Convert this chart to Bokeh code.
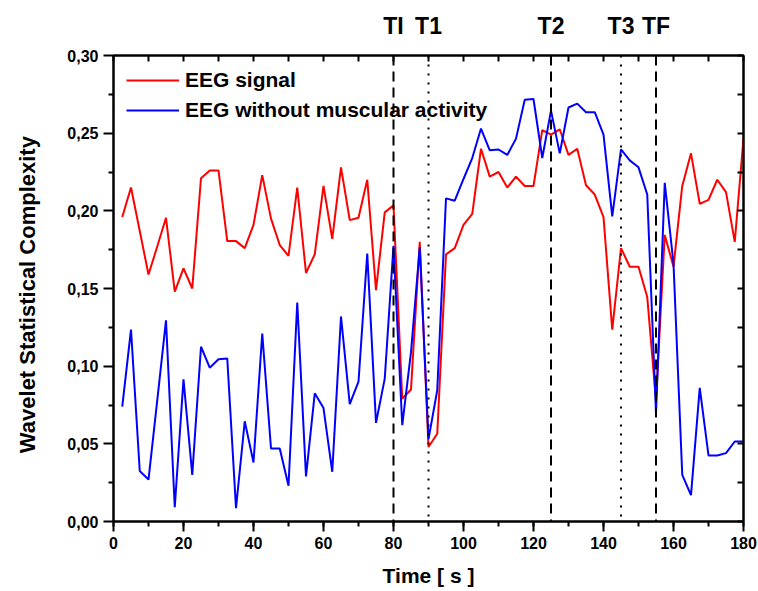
from bokeh.plotting import figure
from bokeh.layouts import column
from bokeh.models import (Range1d, LinearAxis, SingleIntervalTicker, FixedTicker,
                          CustomJSTickFormatter, Span, Legend, LegendItem)
from bokeh.core.properties import value
from bokeh.embed import file_html
from bokeh.resources import INLINE

# ---------------- data ----------------
time_s = [2.5, 5, 7.5, 10, 12.5, 15, 17.5, 20, 22.5, 25, 27.5, 30, 32.5, 35, 37.5, 40,
          42.5, 45, 47.5, 50, 52.5, 55, 57.5, 60, 62.5, 65, 67.5, 70, 72.5, 75, 77.5, 80,
          82.5, 85, 87.5, 90, 92.5, 95, 97.5, 100, 102.5, 105, 107.5, 110, 112.5, 115,
          117.5, 120, 122.5, 125, 127.5, 130, 132.5, 135, 137.5, 140, 142.5, 145, 147.5,
          150, 152.5, 155, 157.5, 160, 162.5, 165, 167.5, 170, 172.5, 175, 177.5, 180]

eeg_signal = [0.196, 0.215, 0.187, 0.159, 0.177, 0.1955, 0.148, 0.163, 0.150, 0.221,
              0.226, 0.226, 0.1805, 0.1805, 0.176, 0.191, 0.223, 0.195, 0.178, 0.171,
              0.215, 0.160, 0.172, 0.216, 0.182, 0.228, 0.194, 0.1955, 0.220, 0.149,
              0.199, 0.2035, 0.079, 0.085, 0.180, 0.048, 0.0565, 0.172, 0.176, 0.191,
              0.198, 0.240, 0.222, 0.225, 0.215, 0.222, 0.216, 0.216, 0.252, 0.249,
              0.2525, 0.236, 0.240, 0.2165, 0.2105, 0.196, 0.1235, 0.176, 0.164, 0.164,
              0.1445, 0.078, 0.1845, 0.164, 0.216, 0.237, 0.2045, 0.207, 0.220, 0.212,
              0.180, 0.2465]

eeg_no_muscle = [0.074, 0.1235, 0.0325, 0.027, 0.078, 0.1295, 0.0092, 0.0915, 0.030, 0.1125,
                 0.099, 0.1045, 0.105, 0.0086, 0.0645, 0.038, 0.121, 0.047, 0.047, 0.023,
                 0.141, 0.029, 0.0825, 0.073, 0.032, 0.132, 0.0755, 0.090, 0.1725, 0.0635,
                 0.092, 0.1775, 0.062, 0.109, 0.1765, 0.053, 0.0845, 0.208, 0.2065, 0.2205,
                 0.234, 0.253, 0.239, 0.2395, 0.236, 0.2465, 0.2715, 0.272, 0.234, 0.2645,
                 0.237, 0.2665, 0.269, 0.2635, 0.2635, 0.249, 0.1965, 0.2395, 0.2325, 0.228,
                 0.2105, 0.0695, 0.218, 0.166, 0.030, 0.017, 0.086, 0.0425, 0.0425, 0.044,
                 0.0515, 0.0515]

marker_times = [80, 90, 125, 145, 155]
marker_names = ["TI", "T1", "T2", "T3", "TF"]
marker_dashes = ["10 6", "2 7", "10 6", "2 7", "10 6"]

y_major = [0.0, 0.05, 0.10, 0.15, 0.20, 0.25, 0.30]
y_minor = [0.025, 0.075, 0.125, 0.175, 0.225, 0.275]

series_names = ["EEG signal", "EEG without muscular activity"]
series_colors = ["#ff0000", "#0000ff"]

FONT = "Liberation Sans"

x_rng = Range1d(0, 180)

# ---------------- strip above the plot with event names ----------------
top_fig = figure(frame_width=630, height=43, x_range=x_rng, y_range=Range1d(0, 1),
                 output_backend="svg", toolbar_location=None,
                 x_axis_location=None, y_axis_location=None,
                 min_border_left=113, min_border_right=15, min_border_top=0,
                 min_border_bottom=0, outline_line_color=None)
top_fig.grid.visible = False
top_fig.text(x=marker_times, y=[0.4] * len(marker_times), text=marker_names,
             text_align="center", text_baseline="middle", text_font=value(FONT),
             text_font_style="bold", text_font_size="23px", text_color="black")

# ---------------- main figure ----------------
p = figure(frame_width=630, frame_height=466,
           x_range=x_rng, y_range=Range1d(0, 0.30),
           output_backend="svg", toolbar_location=None,
           min_border_left=113, min_border_right=15, min_border_top=12, min_border_bottom=70,
           background_fill_color="white", border_fill_color="white")
p.grid.visible = False
p.outline_line_color = "black"
p.outline_line_width = 2

r1 = p.line(time_s, eeg_signal, line_color=series_colors[0], line_width=2)
r2 = p.line(time_s, eeg_no_muscle, line_color=series_colors[1], line_width=2)

xa = p.xaxis[0]
xa.ticker = SingleIntervalTicker(interval=20, num_minor_ticks=2)
xa.axis_label = "Time [ s ]"
ya = p.yaxis[0]
ya.ticker = FixedTicker(ticks=y_major, minor_ticks=y_minor)
ya.formatter = CustomJSTickFormatter(code="return tick.toFixed(2).replace('.', ',');")
ya.axis_label = "Wavelet  Statistical  Complexity"

for ax in (xa, ya):
    ax.axis_line_width = 2
    ax.axis_line_color = "black"
    ax.major_tick_line_width = 2
    ax.minor_tick_line_width = 2
    ax.major_tick_in = 0
    ax.major_tick_out = 10
    ax.minor_tick_in = 0
    ax.minor_tick_out = 5
    ax.major_label_text_font = FONT
    ax.major_label_text_font_style = "bold"
    ax.major_label_text_font_size = "16px"
    ax.major_label_text_color = "black"
    ax.major_label_standoff = 5
    ax.axis_label_text_font = FONT
    ax.axis_label_text_font_style = "bold"
    ax.axis_label_text_font_size = "21px"
    ax.axis_label_text_color = "black"
xa.axis_label_standoff = 12
ya.axis_label_standoff = 24
ya.axis_label_text_font_size = "22px"

top = LinearAxis(ticker=SingleIntervalTicker(interval=10, num_minor_ticks=0),
                 formatter=CustomJSTickFormatter(code="return '';"))
right = LinearAxis(ticker=FixedTicker(ticks=sorted(y_major + y_minor), minor_ticks=[]),
                   formatter=CustomJSTickFormatter(code="return '';"))
for ax in (top, right):
    ax.axis_line_width = 2
    ax.major_tick_line_width = 2
    ax.major_tick_in = 6
    ax.major_tick_out = 0
    ax.minor_tick_in = 0
    ax.minor_tick_out = 0
    ax.major_label_standoff = 0
p.add_layout(top, "above")
p.add_layout(right, "right")

for t, dash in zip(marker_times, marker_dashes):
    p.add_layout(Span(location=t, dimension="height", line_color="black",
                      line_width=2, line_dash=dash))

legend = Legend(items=[LegendItem(label=series_names[0], renderers=[r1]),
                       LegendItem(label=series_names[1], renderers=[r2])],
                location="top_left", border_line_color=None, background_fill_alpha=0,
                label_text_font=FONT, label_text_font_style="bold",
                label_text_font_size="21px", label_text_color="black",
                glyph_width=53, glyph_height=22, label_height=22, spacing=6,
                padding=10, margin=13, label_standoff=6)
p.add_layout(legend)

layout = column(top_fig, p, spacing=0)
open("out.html", "w").write(file_html(layout, INLINE))
